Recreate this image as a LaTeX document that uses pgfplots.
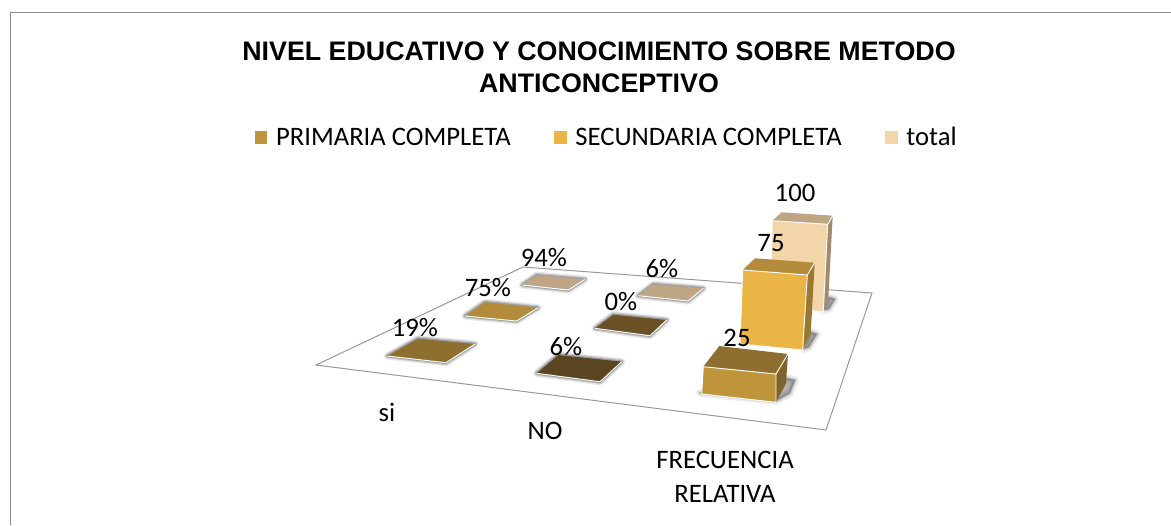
\documentclass[border=0pt]{standalone}
\usepackage{pgfplots}
\pgfplotsset{compat=1.18}
\usepackage{fontspec}
\setmainfont{Carlito}
\newfontfamily\titlefont{Liberation Sans}
\definecolor{cA}{HTML}{BF953B}
\definecolor{cAtop}{HTML}{8E6F30}
\definecolor{cAside}{HTML}{7F6229}
\definecolor{cB}{HTML}{EBB447}
\definecolor{cBtop}{HTML}{B38B3A}
\definecolor{cBside}{HTML}{997832}
\definecolor{cC}{HTML}{F3D5AA}
\definecolor{cCtop}{HTML}{BFA583}
\definecolor{cCside}{HTML}{A08A6B}
\definecolor{cD}{HTML}{5A4520}
\definecolor{cE}{HTML}{6B5226}
% a filled polygon given in picture coordinates
\newcommand\poly[2]{\addplot[fill=#1,draw=none,forget plot] coordinates {#2} -- cycle;}
\newcommand\whiteedge[1]{\addplot[white,line width=0.7pt,forget plot] coordinates {#1};}
\newcommand\halo[1]{%
  \addplot[draw=black,opacity=0.08,line width=5.5pt,line join=round,forget plot] coordinates {#1} -- cycle;
  \addplot[draw=black,opacity=0.14,line width=3.6pt,line join=round,forget plot] coordinates {#1} -- cycle;
  \addplot[draw=black,opacity=0.20,line width=2pt,line join=round,forget plot] coordinates {#1} -- cycle;}
\newcommand\barshadow[1]{%
  \addplot[draw=black,opacity=0.06,line width=6pt,line join=round,forget plot] coordinates {#1} -- cycle;
  \addplot[draw=black,opacity=0.09,line width=3.5pt,line join=round,forget plot] coordinates {#1} -- cycle;
  \addplot[fill=black,draw=black,fill opacity=0.30,draw opacity=0.12,line width=1.5pt,line join=round,forget plot] coordinates {#1} -- cycle;}
\newcommand\lab[3]{\node[font=\fontsize{20}{20}\selectfont,anchor=center,inner sep=0pt] at (axis cs:#1,#2) {#3};}
\begin{document}
\begin{tikzpicture}
\begin{axis}[
  scale only axis, width=878.25pt, height=393.75pt,
  xmin=0, xmax=1171, ymin=0, ymax=525, y dir=reverse,
  hide axis, clip=true,
  legend columns=3,
  legend cell align=left,
  legend style={draw=none, fill=none, at={(0.2175,0.7385)}, anchor=west,
    font=\fontsize{20}{20}\selectfont, inner sep=0pt, outer sep=0pt,
    nodes={text height=15.3pt,text depth=2.7pt},
    /tikz/every even column/.append style={column sep=30.5pt}},
  legend image code/.code={\path[draw=none] (0pt,0pt) -- (14pt,0pt);\fill[#1,draw=none] (0pt,-4.8pt) rectangle (9.6pt,4.8pt);},
]
\addplot[fill=white,draw=none,forget plot] coordinates {(0,0) (1171,0) (1171,525) (0,525)} -- cycle;
% chart frame
\addplot[color=black!45,line width=1pt,forget plot] coordinates {(10.5,525) (10.5,12.5) (1171,12.5)};
% floor
\addplot[color=black!40,line width=0.75pt,forget plot] coordinates {(316,365) (523,267) (872,293) (826,430)} -- cycle;
% flat tiles, column si
\halo{(522.3,285) (536.7,275.3) (585,279.3) (568.3,290)}
\poly{cCtop}{(522.3,285) (536.7,275.3) (585,279.3) (568.3,290)}
\whiteedge{(522.3,285) (568.3,290) (585,279.3)}
\halo{(465,316) (485,302.3) (538,307.7) (516.7,321)}
\poly{cBtop}{(465,316) (485,302.3) (538,307.7) (516.7,321)}
\whiteedge{(465,316) (516.7,321) (538,307.7)}
\halo{(387.3,356) (418,338.7) (475,344) (446,362.7)}
\poly{cAtop}{(387.3,356) (418,338.7) (475,344) (446,362.7)}
\whiteedge{(387.3,356) (446,362.7) (475,344)}
% flat tiles, column NO
\halo{(638.3,295.7) (653.3,284.3) (703.3,288.3) (688.3,301)}
\poly{cCtop}{(638.3,295.7) (653.3,284.3) (703.3,288.3) (688.3,301)}
\whiteedge{(638.3,295.7) (688.3,301) (703.3,288.3)}
\halo{(595,328.3) (613.3,314.7) (666.7,320) (650,335.7)}
\poly{cE}{(595,328.3) (613.3,314.7) (666.7,320) (650,335.7)}
\whiteedge{(595,328.3) (650,335.7) (666.7,320)}
\halo{(536.7,373.3) (558.3,355) (621.7,361.7) (600,381.7)}
\poly{cD}{(536.7,373.3) (558.3,355) (621.7,361.7) (600,381.7)}
\whiteedge{(536.7,373.3) (600,381.7) (621.7,361.7)}
% bar total = 100
\barshadow{(824,310) (829,297) (835,299) (829,309)}
\poly{cC}{(772.3,220.7) (827.7,224.3) (823.3,311.7) (770,307)}
\poly{cCtop}{(772.3,220.7) (781.7,212.3) (832.7,215.7) (827.7,224.3)}
\poly{cCside}{(827.7,224.3) (832.7,215.7) (828.3,298.3) (823.3,311.7)}
\whiteedge{(770,307) (772.3,220.7) (827.7,224.3) (823.3,311.7) (770,307)}
\whiteedge{(827.7,224.3) (832.7,215.7)}
% bar secundaria = 75
\barshadow{(804,349) (811,332) (817,334) (809,347)}
\poly{cB}{(742.7,270) (807.3,275) (802.7,350) (740,344)}
\poly{cBtop}{(742.7,270) (755,258.3) (814.7,262.7) (807.3,275)}
\poly{cBside}{(807.3,275) (814.7,262.7) (810.7,333.3) (802.7,350)}
\whiteedge{(740,344) (742.7,270) (807.3,275) (802.7,350) (740,344)}
\whiteedge{(807.3,275) (814.7,262.7)}
% bar primaria = 25
\barshadow{(700,393) (776,401) (790,393) (795,380) (786,378)}
\poly{cA}{(703.3,366.7) (776,374) (776,402.3) (701.7,394)}
\poly{cAtop}{(703.3,366.7) (719.3,346) (788,354) (776,374)}
\poly{cAside}{(776,374) (788,354) (786,383.3) (776,402.3)}
\whiteedge{(701.7,394) (703.3,366.7) (776,374) (776,402.3) (701.7,394)}
\whiteedge{(776,374) (788,354)}
% legend
\addlegendimage{fill=cA}\addlegendentry{PRIMARIA COMPLETA}
\addlegendimage{fill=cB}\addlegendentry{SECUNDARIA COMPLETA}
\addlegendimage{fill=cC}\addlegendentry{total}
% title
\node[font=\titlefont\bfseries\fontsize{20.1}{20.1}\selectfont,anchor=base,inner sep=0pt] at (axis cs:599,60) {NIVEL EDUCATIVO Y CONOCIMIENTO SOBRE METODO};
\node[font=\titlefont\bfseries\fontsize{20.1}{20.1}\selectfont,anchor=base,inner sep=0pt] at (axis cs:599,92) {ANTICONCEPTIVO};
% data labels
\lab{544}{258}{94\%}
\lab{488}{288}{75\%}
\lab{415}{328}{19\%}
\lab{662}{269}{6\%}
\lab{621}{302}{0\%}
\lab{566}{347}{6\%}
\lab{795}{193}{100}
\lab{771}{243}{75}
\lab{737}{338}{25}
% category labels
\lab{387}{412}{si}
\lab{545}{431}{NO}
\lab{725}{460}{FRECUENCIA}
\lab{725}{494}{RELATIVA}
\end{axis}
\end{tikzpicture}
\end{document}
